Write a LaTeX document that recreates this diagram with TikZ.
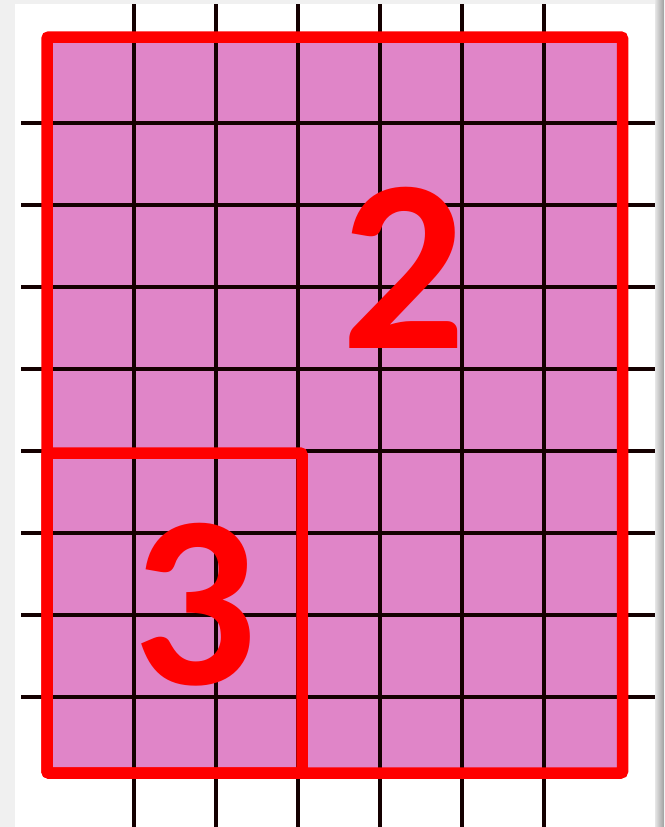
\documentclass[tikz,border=0pt]{standalone}
\usepackage{fontspec}
\newfontfamily\numfont{Carlito}
\begin{document}
\begin{tikzpicture}[x=1pt,y=-1pt,
  gridline/.style={line width=3.6pt,color=black!92!red},
  redbox/.style={draw=red,line width=11.5pt,rounded corners=2pt},
  bignum/.style={text=red,font=\numfont\bfseries\fontsize{246}{246}\selectfont,inner sep=0pt,anchor=center}]
\useasboundingbox (0,0) rectangle (664,827);
\fill[black!6] (0,0) rectangle (664,827);
\shade[left color=black!10,right color=black!38] (655,0) rectangle (664,827);
\fill[white] (15,4) rectangle (655,827);
\fill[fill={rgb,255:red,224;green,133;blue,200}] (47,37) rectangle (622.5,773);
\foreach \x in {134,216,298,380,462,544} \draw[gridline] (\x,4) -- (\x,827);
\foreach \y in {123,205,287,369,451,533,615,697} \draw[gridline] (21,\y) -- (655,\y);
\draw[redbox] (47,37) rectangle (622.5,773);
\draw[redbox] (47,453) rectangle (302,773);
\node[bignum] (two) at (404,268) {2};
\node[bignum] (three) at (195,605) {3};
\end{tikzpicture}
\end{document}
